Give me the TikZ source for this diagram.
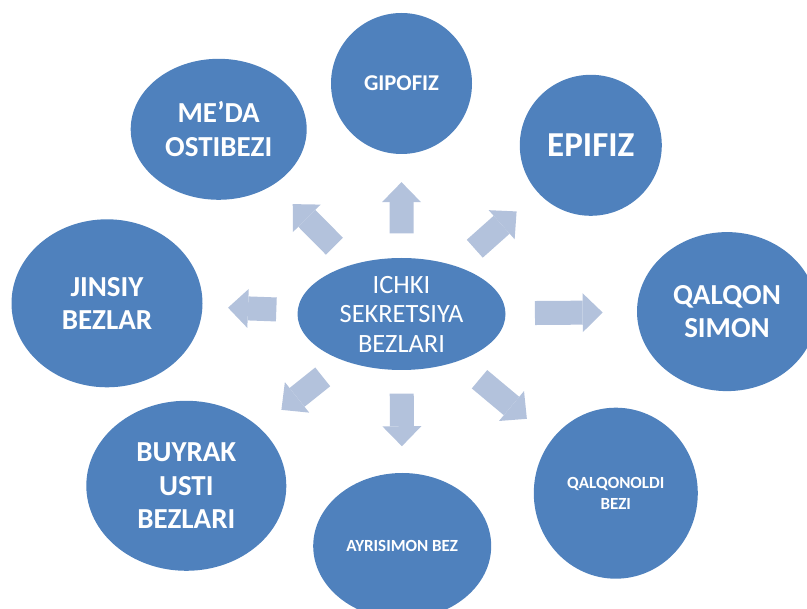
\documentclass[tikz,border=0pt]{standalone}
\usepackage{fontspec}
\setmainfont{Carlito}
\usetikzlibrary{shapes.geometric, arrows.meta, calc}
\definecolor{glandblue}{HTML}{4F81BD}
\definecolor{arrowblue}{HTML}{B3C2DC}

\begin{document}
\begin{tikzpicture}[x=1pt, y=-1pt,
  gland/.style={ellipse, fill=glandblue, text=white, inner sep=0pt, align=center},
  big/.style={font=\fontsize{29}{33.5}\selectfont\bfseries},
  small/.style={font=\fontsize{17}{21}\selectfont\bfseries},
  blk/.style={arrowblue, line width=24pt, -{Triangle[width=39pt, length=20pt, line width=0pt]}}]
  \useasboundingbox (0,0) rectangle (807,609);
  \clip (0,0) rectangle (807,609);
  % centre
  \node[gland, minimum width=208, minimum height=112, inner ysep=-10pt,
        font=\fontsize{26.4}{29.5}\selectfont] (c) at (401.5,314) {ICHKI\\SEKRETSIYA\\BEZLARI};
  % glands round it
  \node[gland, minimum width=141, minimum height=141, font=\fontsize{22.6}{27}\selectfont\bfseries] (gip) at (401.5,83.5) {GIPOFIZ};
  \node[gland, minimum width=142, minimum height=141, font=\fontsize{35}{40}\selectfont\bfseries] (epi) at (590.8,145.3) {EPIFIZ};
  \node[gland, big, minimum width=180, minimum height=159] (qal) at (727,311.6) {QALQON\\SIMON};
  \node[gland, small, minimum width=164, minimum height=171] (qbz) at (615.8,493.2) {QALQONOLDI\\BEZI};
  \node[gland, small, minimum width=178, minimum height=146] (ayr) at (402.2,546) {AYRISIMON BEZ};
  \node[gland, big, minimum width=200, minimum height=170] (buy) at (186.3,485.8) {BUYRAK\\USTI\\BEZLARI};
  \node[gland, big, minimum width=191, minimum height=168] (jin) at (107,303.3) {JINSIY\\BEZLAR};
  \node[gland, big, minimum width=176, minimum height=141] (med) at (218.7,129.3) {ME’DA\\OSTIBEZI};
  % block arrows
  \foreach \g/\a/\b in {gip/0.35/0.572, epi/0.387/0.608, qal/0.41/0.618, qbz/0.364/0.585,
                        ayr/0.343/0.57, buy/0.366/0.558, jin/0.425/0.589, med/0.367/0.595}
    \draw[blk] ($(c)!\a!(\g)$) -- ($(c)!\b!(\g)$);
\end{tikzpicture}
\end{document}
